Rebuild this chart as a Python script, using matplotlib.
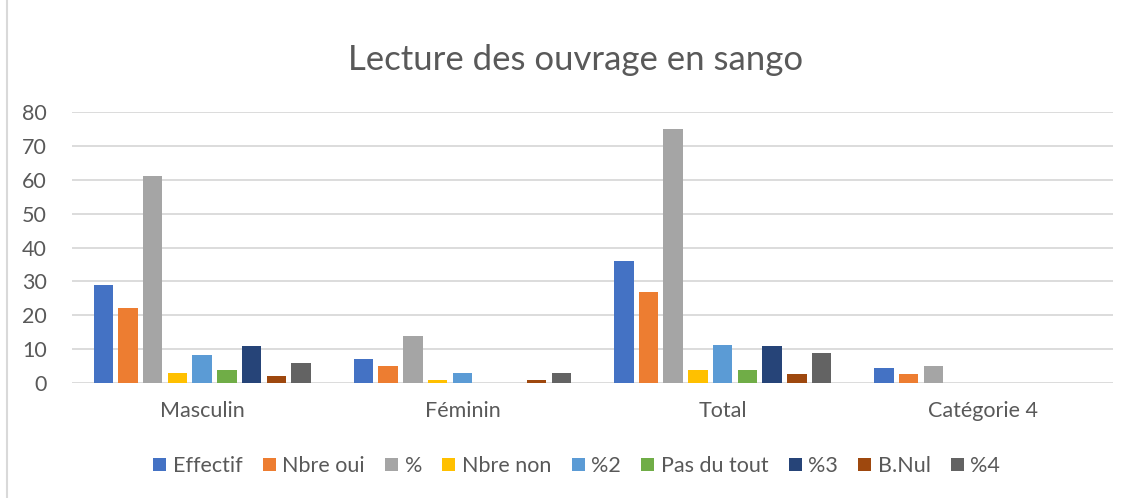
import numpy as np
from matplotlib import pyplot as plt
from matplotlib.lines import Line2D
from matplotlib.patches import Patch

plt.rcParams['font.family'] = ['Lato', 'DejaVu Sans']

categories = ['Masculin', 'Féminin', 'Total', 'Catégorie 4']
series_names = ['Effectif', 'Nbre oui', '%', 'Nbre non', '%2',
                'Pas du tout', '%3', 'B.Nul', '%4']
effectif = [29, 7, 36, 4.5]
nbre_oui = [22, 5, 27, 2.8]
pct = [61, 14, 75, 5]
nbre_non = [3, 0.8, 3.8, 0]
pct2 = [8.2, 3, 11.2, 0]
pas_du_tout = [3.8, 0, 3.8, 0]
pct3 = [11, 0, 11, 0]
b_nul = [2, 0.8, 2.8, 0]
pct4 = [6, 2.9, 9, 0]
series = [effectif, nbre_oui, pct, nbre_non, pct2, pas_du_tout, pct3, b_nul, pct4]
colors = ['#4472C4', '#ED7D31', '#A5A5A5', '#FFC000', '#5B9BD5',
          '#70AD47', '#264478', '#9E480E', '#636363']

text_color = '#595959'

fig = plt.figure(figsize=(11.31, 4.98), dpi=100)
ax = fig.add_axes([0.0637, 0.2309, 0.9204, 0.5442])

x = np.arange(len(categories))
pitch = 0.095
width = 0.075
for i, (vals, col) in enumerate(zip(series, colors)):
    offs = (i - 4) * pitch
    ax.bar(x + offs, vals, width, color=col, zorder=3)

ax.set_xlim(-0.5, len(categories) - 0.5)
ax.set_ylim(0, 80)
ax.set_yticks(range(0, 81, 10))
ax.yaxis.grid(True, color='#D9D9D9', linewidth=1.3, zorder=0)
for s in ax.spines.values():
    s.set_visible(False)
ax.tick_params(axis='both', length=0, labelsize=15.5, colors=text_color)
ax.tick_params(axis='y', pad=18)
ax.tick_params(axis='x', pad=13)
ax.set_xticks(x)
ax.set_xticklabels(categories)

fig.text(0.509, 0.88, 'Lecture des ouvrage en sango', ha='center', va='center',
         fontsize=25, color=text_color)

handles = [Patch(facecolor=c) for c in colors]
fig.legend(handles, series_names, loc='center', bbox_to_anchor=(0.51, 0.064),
           ncol=9, frameon=False, fontsize=15.5, labelcolor=text_color,
           handlelength=0.6, handleheight=0.6, handletextpad=0.3, columnspacing=0.95)

fig.add_artist(Line2D([0.0062, 0.0062], [0, 1], color='#D9D9D9', linewidth=1.5))

fig.savefig('out.png', dpi=100)
